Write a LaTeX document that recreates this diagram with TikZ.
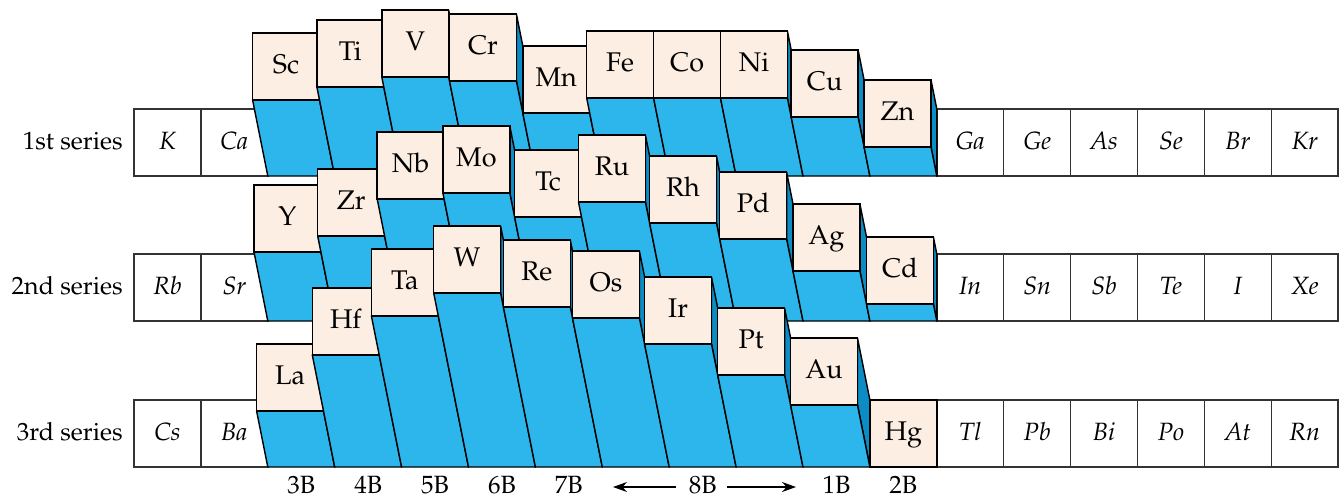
\documentclass[tikz,border=0pt]{standalone}
\usepackage[T1]{fontenc}
\usepackage{mathpazo}
\usepackage{xcolor}
\usetikzlibrary{arrows.meta, positioning, math}

\definecolor{boxtan}{RGB}{252,238,226}
\definecolor{barblue}{RGB}{44,182,236}
\definecolor{sideblue}{RGB}{12,140,196}

\tikzset{
  cell/.style={draw=black!80, line width=0.75pt, fill=white, minimum width=33.45pt, minimum height=33.45pt,
    inner sep=0pt, outer sep=0pt, font=\fontsize{12.5}{14}\selectfont\itshape, text height=0.69em, text depth=0pt},
  elbox/.style={cell, draw=black, fill=boxtan, font=\fontsize{13.5}{15}\selectfont},
  front/.style={fill=barblue, draw=black, line width=0.7pt, line join=round},
  side/.style={fill=sideblue, draw=black, line width=0.7pt, line join=round},
  lbl/.style={inner sep=0pt, font=\fontsize{12.5}{14}\selectfont, text height=0.69em, text depth=0pt},
  arr/.style={-{Stealth[length=7pt,width=5pt]}, line width=0.7pt},
}

\begin{document}
\begin{tikzpicture}[x=0.5pt, y=-0.5pt]
\tikzmath{
\w=66.9;
\s=0.2;
\xl=134;
}
\useasboundingbox (0,0) rectangle (1343,499);

% 1st series
\def\yb{176}
\foreach \c/\el in {1/K,2/Ca,13/Ga,14/Ge,15/As,16/Se,17/Br,18/Kr}
  \node[cell, anchor=south west] (\el) at (\xl+\w*\c-\w,\yb) {\el};
\foreach \c/\h/\el in {3/76/Sc,4/89/Ti,5/99/V,6/95/Cr,7/63/Mn,8/78/Fe,9/78/Co,10/78/Ni,11/59/Cu,12/29/Zn} {
  \pgfmathsetmacro{\xa}{\xl+\w*\c-\w}
  \pgfmathsetmacro{\xs}{\xa-\s*\h}
  \draw[side] (\xs+\w,\yb-\w-\h) -- (\xa+\w,\yb-\w) -- (\xa+\w,\yb) -- (\xs+\w,\yb-\h) -- cycle;
  \draw[front] (\xs,\yb-\h) -- (\xs+\w,\yb-\h) -- (\xa+\w,\yb) -- (\xa,\yb) -- cycle;
  \node[elbox, anchor=south west] (\el) at (\xs,\yb-\h) {\el};
}

% 2nd series
\def\yb{321}
\foreach \c/\el in {1/Rb,2/Sr,13/In,14/Sn,15/Sb,16/Te,17/I,18/Xe}
  \node[cell, anchor=south west] (\el) at (\xl+\w*\c-\w,\yb) {\el};
\foreach \c/\h/\el in {3/69/Y,4/85/Zr,5/122/Nb,6/128/Mo,7/104/Tc,8/119/Ru,9/98/Rh,10/82/Pd,11/50/Ag,12/17/Cd} {
  \pgfmathsetmacro{\xa}{\xl+\w*\c-\w}
  \pgfmathsetmacro{\xs}{\xa-\s*\h}
  \draw[side] (\xs+\w,\yb-\w-\h) -- (\xa+\w,\yb-\w) -- (\xa+\w,\yb) -- (\xs+\w,\yb-\h) -- cycle;
  \draw[front] (\xs,\yb-\h) -- (\xs+\w,\yb-\h) -- (\xa+\w,\yb) -- (\xa,\yb) -- cycle;
  \node[elbox, anchor=south west] (\el) at (\xs,\yb-\h) {\el};
}

% 3rd series
\def\yb{467}
\foreach \c/\el in {1/Cs,2/Ba,13/Tl,14/Pb,15/Bi,16/Po,17/At,18/Rn}
  \node[cell, anchor=south west] (\el) at (\xl+\w*\c-\w,\yb) {\el};
\foreach \c/\h/\el in {3/56/La,4/112/Hf,5/151/Ta,6/174/W,7/160/Re,8/149/Os,9/123/Ir,10/92/Pt,11/62/Au,12/0/Hg} {
  \pgfmathsetmacro{\xa}{\xl+\w*\c-\w}
  \pgfmathsetmacro{\xs}{\xa-\s*\h}
  \draw[side] (\xs+\w,\yb-\w-\h) -- (\xa+\w,\yb-\w) -- (\xa+\w,\yb) -- (\xs+\w,\yb-\h) -- cycle;
  \draw[front] (\xs,\yb-\h) -- (\xs+\w,\yb-\h) -- (\xa+\w,\yb) -- (\xa,\yb) -- cycle;
  \node[elbox, anchor=south west] (\el) at (\xs,\yb-\h) {\el};
}

\node[lbl, left=5.5pt of K] (s1) {1st series};
\node[lbl, left=5.5pt of Rb] (s2) {2nd series};
\node[lbl, left=5.5pt of Cs] (s3) {3rd series};

\foreach \c/\g in {3/3B,4/4B,5/5B,6/6B,7/7B,11/1B,12/2B}
  \node[lbl] (g\g) at (\xl+\w*\c-\w/2,487) {\g};
\node[lbl] (g8B) at (\xl+\w*8.5,487) {8B};
\coordinate (a8l) at (613,487);
\coordinate (a8r) at (796,487);
\draw[arr] ([xshift=-6pt]g8B.west) -- (a8l);
\draw[arr] ([xshift=5pt]g8B.east) -- (a8r);
\end{tikzpicture}
\end{document}
